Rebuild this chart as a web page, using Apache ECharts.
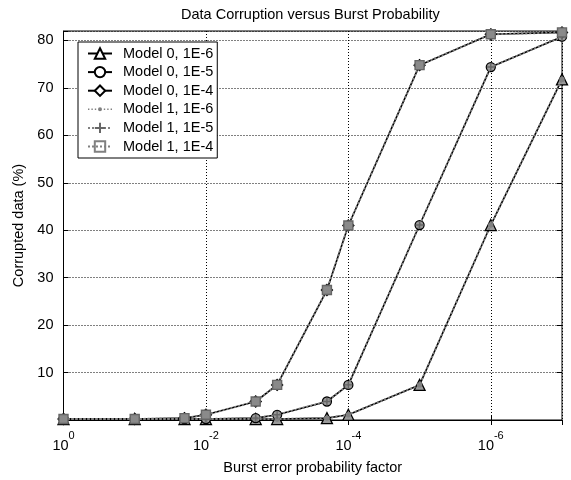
<!DOCTYPE html>
<html><head><meta charset="utf-8">
<script src="https://cdn.jsdelivr.net/npm/echarts@6/dist/echarts.min.js"></script>
<style>html,body{margin:0;padding:0;background:#fff}#c{width:571px;height:480px}</style>
</head><body><div id="c"></div>
<script>
// x values (burst error probability factor)
const burstFactors = [1, 0.1, 0.02, 0.01, 0.002, 0.001, 0.0002, 0.0001, 1e-5, 1e-6, 1e-7];
// Corrupted data (%)
const model0_1e6 = [0.2, 0.2, 0.2, 0.2, 0.2, 0.2, 0.4, 1.1, 7.4, 41.1, 71.8];
const model0_1e5 = [0.2, 0.2, 0.2, 0.2, 0.4, 1.1, 3.9, 7.4, 41.1, 74.4, 80.8];
const model0_1e4 = [0.2, 0.2, 0.4, 1.1, 3.9, 7.4, 27.4, 41.0, 74.8, 81.3, 81.7];
const model1_1e6 = [0.2, 0.2, 0.2, 0.2, 0.2, 0.2, 0.4, 1.1, 7.4, 41.1, 71.8];
const model1_1e5 = [0.2, 0.2, 0.2, 0.2, 0.4, 1.1, 3.9, 7.4, 41.1, 74.4, 80.8];
const model1_1e4 = [0.2, 0.2, 0.4, 1.1, 3.9, 7.4, 27.4, 41.0, 74.8, 81.3, 81.7];
const seriesNames = ['Model 0, 1E-6','Model 0, 1E-5','Model 0, 1E-4','Model 1, 1E-6','Model 1, 1E-5','Model 1, 1E-4'];
const yTickLabels = ['10','20','30','40','50','60','70','80'];

const FONT = "'Liberation Sans', Arial, Helvetica, sans-serif";
const GRAY = '#808080';
const PLUS = 'path://M5,0L5,10M0,5L10,5';
// legend icon: dotted line with a small dot in the middle
const DOT_LINE_ICON = 'path://' +
  'M0,1.3h1.4v1.4h-1.4zM3.4,1.3h1.4v1.4h-1.4zM6.8,1.3h1.4v1.4h-1.4z' +
  'M10,2a2,2 0 1,0 4,0a2,2 0 1,0 -4,0z' +
  'M15.8,1.3h1.4v1.4h-1.4zM19.2,1.3h1.4v1.4h-1.4zM22.6,1.3h1.4v1.4h-1.4z';
const toData = arr => burstFactors.map((x, i) => [x, arr[i]]);

const chart = echarts.init(document.getElementById('c'), null, {renderer: 'canvas'});

function xLabel(v) {
  const e = Math.round(Math.log10(v));
  if (e % 2 !== 0) return '';
  return '{b|10}{e|' + e + '}';
}
const xRich = {
  b: {fontSize: 14.5, fontFamily: FONT, color: '#000'},
  e: {fontSize: 11, fontFamily: FONT, color: '#000', padding: [0, 0, 20, 0]}
};
const dotted = {type: [1, 2], color: '#000', width: 1};

function m0(name, arr, symbol, size) {
  return {
    name, type: 'line', data: toData(arr), symbol, symbolSize: size,
    lineStyle: {color: '#000', width: 1.6, type: 'solid'},
    itemStyle: {color: '#999', borderColor: '#000', borderWidth: 1.3},
    emphasis: {disabled: true}, z: 3
  };
}
function m1(name, arr, symbol, size, fill, border) {
  return {
    name, type: 'line', data: toData(arr), symbol, symbolSize: size,
    lineStyle: {color: GRAY, width: 2, type: [2, 2]},
    itemStyle: {color: fill, borderColor: border, borderWidth: 1.4},
    emphasis: {disabled: true}, z: 4
  };
}

const option = {
  animation: false,
  backgroundColor: '#fff',
  title: {
    text: 'Data Corruption versus Burst Probability',
    left: 181, top: 7, padding: 0,
    textStyle: {fontSize: 14.5, fontWeight: 'normal', fontFamily: FONT, color: '#000'}
  },
  legend: {
    orient: 'vertical', left: 78, top: 42,
    padding: [3, 4, 3, 9], itemGap: 1.6, itemWidth: 24, itemHeight: 13,
    backgroundColor: '#fff', borderColor: '#000', borderWidth: 1, borderRadius: 0,
    textStyle: {fontSize: 14.5, fontFamily: FONT, color: '#000', lineHeight: 17, padding: [0, 0, 0, 6]},
    data: [
      {name: seriesNames[0], itemStyle: {color: '#fff'}},
      {name: seriesNames[1], itemStyle: {color: '#fff'}},
      {name: seriesNames[2], itemStyle: {color: '#fff'}},
      {name: seriesNames[3], icon: DOT_LINE_ICON, itemStyle: {color: GRAY, borderWidth: 0}},
      {name: seriesNames[4]},
      {name: seriesNames[5], itemStyle: {color: 'transparent', borderColor: GRAY}}
    ]
  },
  grid: {left: 63.5, right: 9, top: 31, bottom: 60, show: true, borderColor: '#000', borderWidth: 1, containLabel: false},
  xAxis: [{
    type: 'log', logBase: 100, min: 1e-7, max: 1, inverse: true,
    name: 'Burst error probability factor', nameLocation: 'middle', nameGap: 40,
    nameTextStyle: {fontSize: 14.5, fontFamily: FONT, color: '#000'},
    axisLine: {show: true, lineStyle: {color: '#000'}},
    axisTick: {show: true, inside: true, length: 5, lineStyle: {color: '#000'}},
    axisLabel: {formatter: xLabel, rich: xRich, margin: 10, showMinLabel: false},
    splitLine: {show: true, lineStyle: dotted},
    minorTick: {show: false}
  }, {
    type: 'log', logBase: 100, min: 1e-7, max: 1, inverse: true, position: 'top',
    axisLine: {show: false}, axisLabel: {show: false},
    axisTick: {show: true, inside: true, length: 5, lineStyle: {color: '#000'}},
    splitLine: {show: false}
  }],
  yAxis: [{
    type: 'value', min: 0, max: 82, interval: 10,
    name: 'Corrupted data (%)', nameLocation: 'middle', nameGap: 30,
    nameTextStyle: {fontSize: 14.5, fontFamily: FONT, color: '#000'},
    axisLine: {show: true, lineStyle: {color: '#000'}},
    axisTick: {show: true, inside: true, length: 5, lineStyle: {color: '#000'}},
    axisLabel: {
      fontSize: 14.5, fontFamily: FONT, color: '#000', margin: 10,
      formatter: v => { const i = Math.round(v / 10) - 1; return (v > 0 && v <= 80) ? yTickLabels[i] : ''; }
    },
    splitLine: {show: true, lineStyle: dotted}
  }, {
    type: 'value', min: 0, max: 82, interval: 10, position: 'right',
    axisLine: {show: false}, axisLabel: {show: false},
    axisTick: {show: true, inside: true, length: 5, lineStyle: {color: '#000'}},
    splitLine: {show: false}
  }],
  series: [
    m0(seriesNames[0], model0_1e6, 'triangle', 11),
    m0(seriesNames[1], model0_1e5, 'circle', 9),
    m0(seriesNames[2], model0_1e4, 'diamond', 11),
    m1(seriesNames[3], model1_1e6, 'circle', 4, GRAY, GRAY),
    m1(seriesNames[4], model1_1e5, PLUS, 8, 'transparent', '#666'),
    m1(seriesNames[5], model1_1e4, 'rect', 9, '#8a8a8a', '#666')
  ]
};
chart.setOption(option);
</script></body></html>
